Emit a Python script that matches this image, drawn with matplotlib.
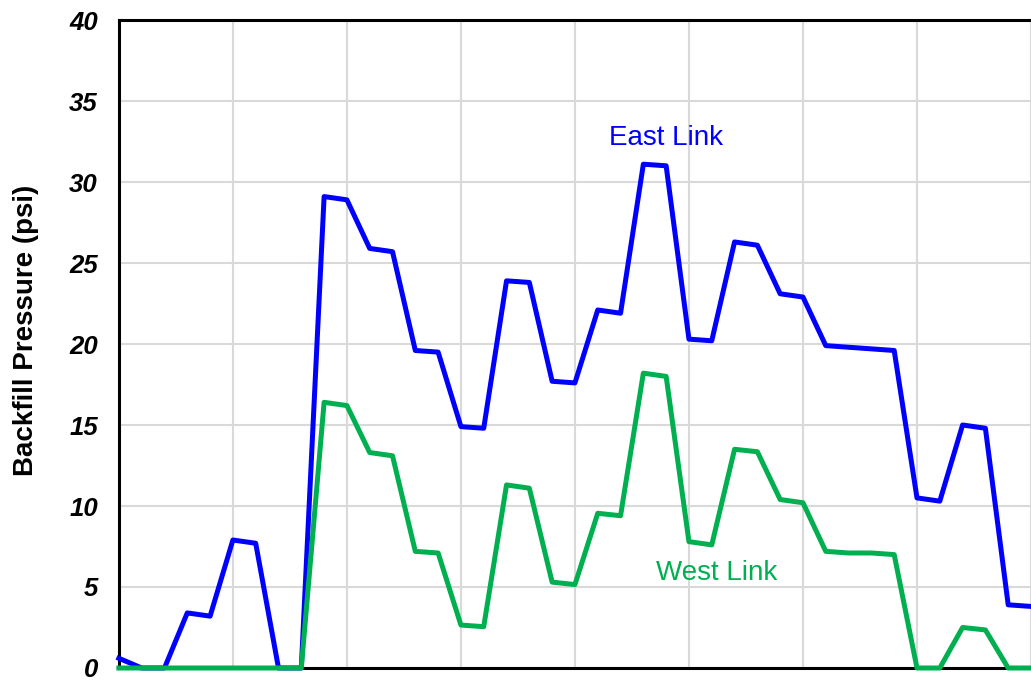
import matplotlib.pyplot as plt
import numpy as np

plt.rcParams['font.family'] = ['Liberation Sans', 'DejaVu Sans']

# Backfill pressure readings (psi), one per step
east_link = [0.6, 0, 0, 3.4, 3.2, 7.9, 7.7, 0, 0, 29.1, 28.9, 25.9, 25.7, 19.6, 19.5,
             14.9, 14.8, 23.9, 23.8, 17.7, 17.6, 22.1, 21.9, 31.1, 31.0, 20.3, 20.2,
             26.3, 26.1, 23.1, 22.9, 19.9, 19.8, 19.7, 19.6, 10.5, 10.3, 15.0, 14.8,
             3.9, 3.8]
west_link = [0, 0, 0, 0, 0, 0, 0, 0, 0, 16.4, 16.2, 13.3, 13.1, 7.2, 7.1,
             2.65, 2.55, 11.3, 11.1, 5.3, 5.15, 9.55, 9.4, 18.2, 18.0, 7.8, 7.6,
             13.5, 13.35, 10.4, 10.2, 7.2, 7.1, 7.1, 7.0, 0, 0, 2.5, 2.35,
             0, 0]
y_ticks = [0, 5, 10, 15, 20, 25, 30, 35, 40]

x = np.arange(len(east_link))

fig = plt.figure(figsize=(10.31, 6.81), dpi=100)
ax = fig.add_axes([0.1153, 0.0191, 0.8847, 0.9515])

ax.plot(x, east_link, color='#0000FF', linewidth=3.6, clip_on=False, zorder=3)
ax.plot(x, west_link, color='#00B050', linewidth=3.6, clip_on=False, zorder=4)

ax.set_xlim(0, 39.8)
ax.set_ylim(0, 40)
ax.set_xticks(np.arange(0, 41, 5))
ax.set_yticks(y_ticks)
ax.set_xticklabels([])
ax.set_yticklabels([str(v) for v in y_ticks], fontsize=18.5, fontweight='bold', fontstyle='italic')
ax.tick_params(axis='both', length=0)
ax.tick_params(axis='y', pad=15)
ax.grid(True, color='#d9d9d9', linewidth=1.5)
ax.set_axisbelow(True)

for s in ['left', 'bottom', 'top']:
    ax.spines[s].set_linewidth(2.2)
    ax.spines[s].set_color('black')
ax.spines['right'].set_visible(False)

ax.set_ylabel('Backfill Pressure (psi)', fontsize=20, fontweight='bold')
ax.yaxis.set_label_coords(-0.0875, 0.521)

ax.text(24.0, 32.7, 'East Link', color='#0000FF', fontsize=20, ha='center', va='center')
ax.text(26.2, 5.86, 'West Link', color='#00B050', fontsize=20, ha='center', va='center')

fig.savefig('out.png', dpi=100)
